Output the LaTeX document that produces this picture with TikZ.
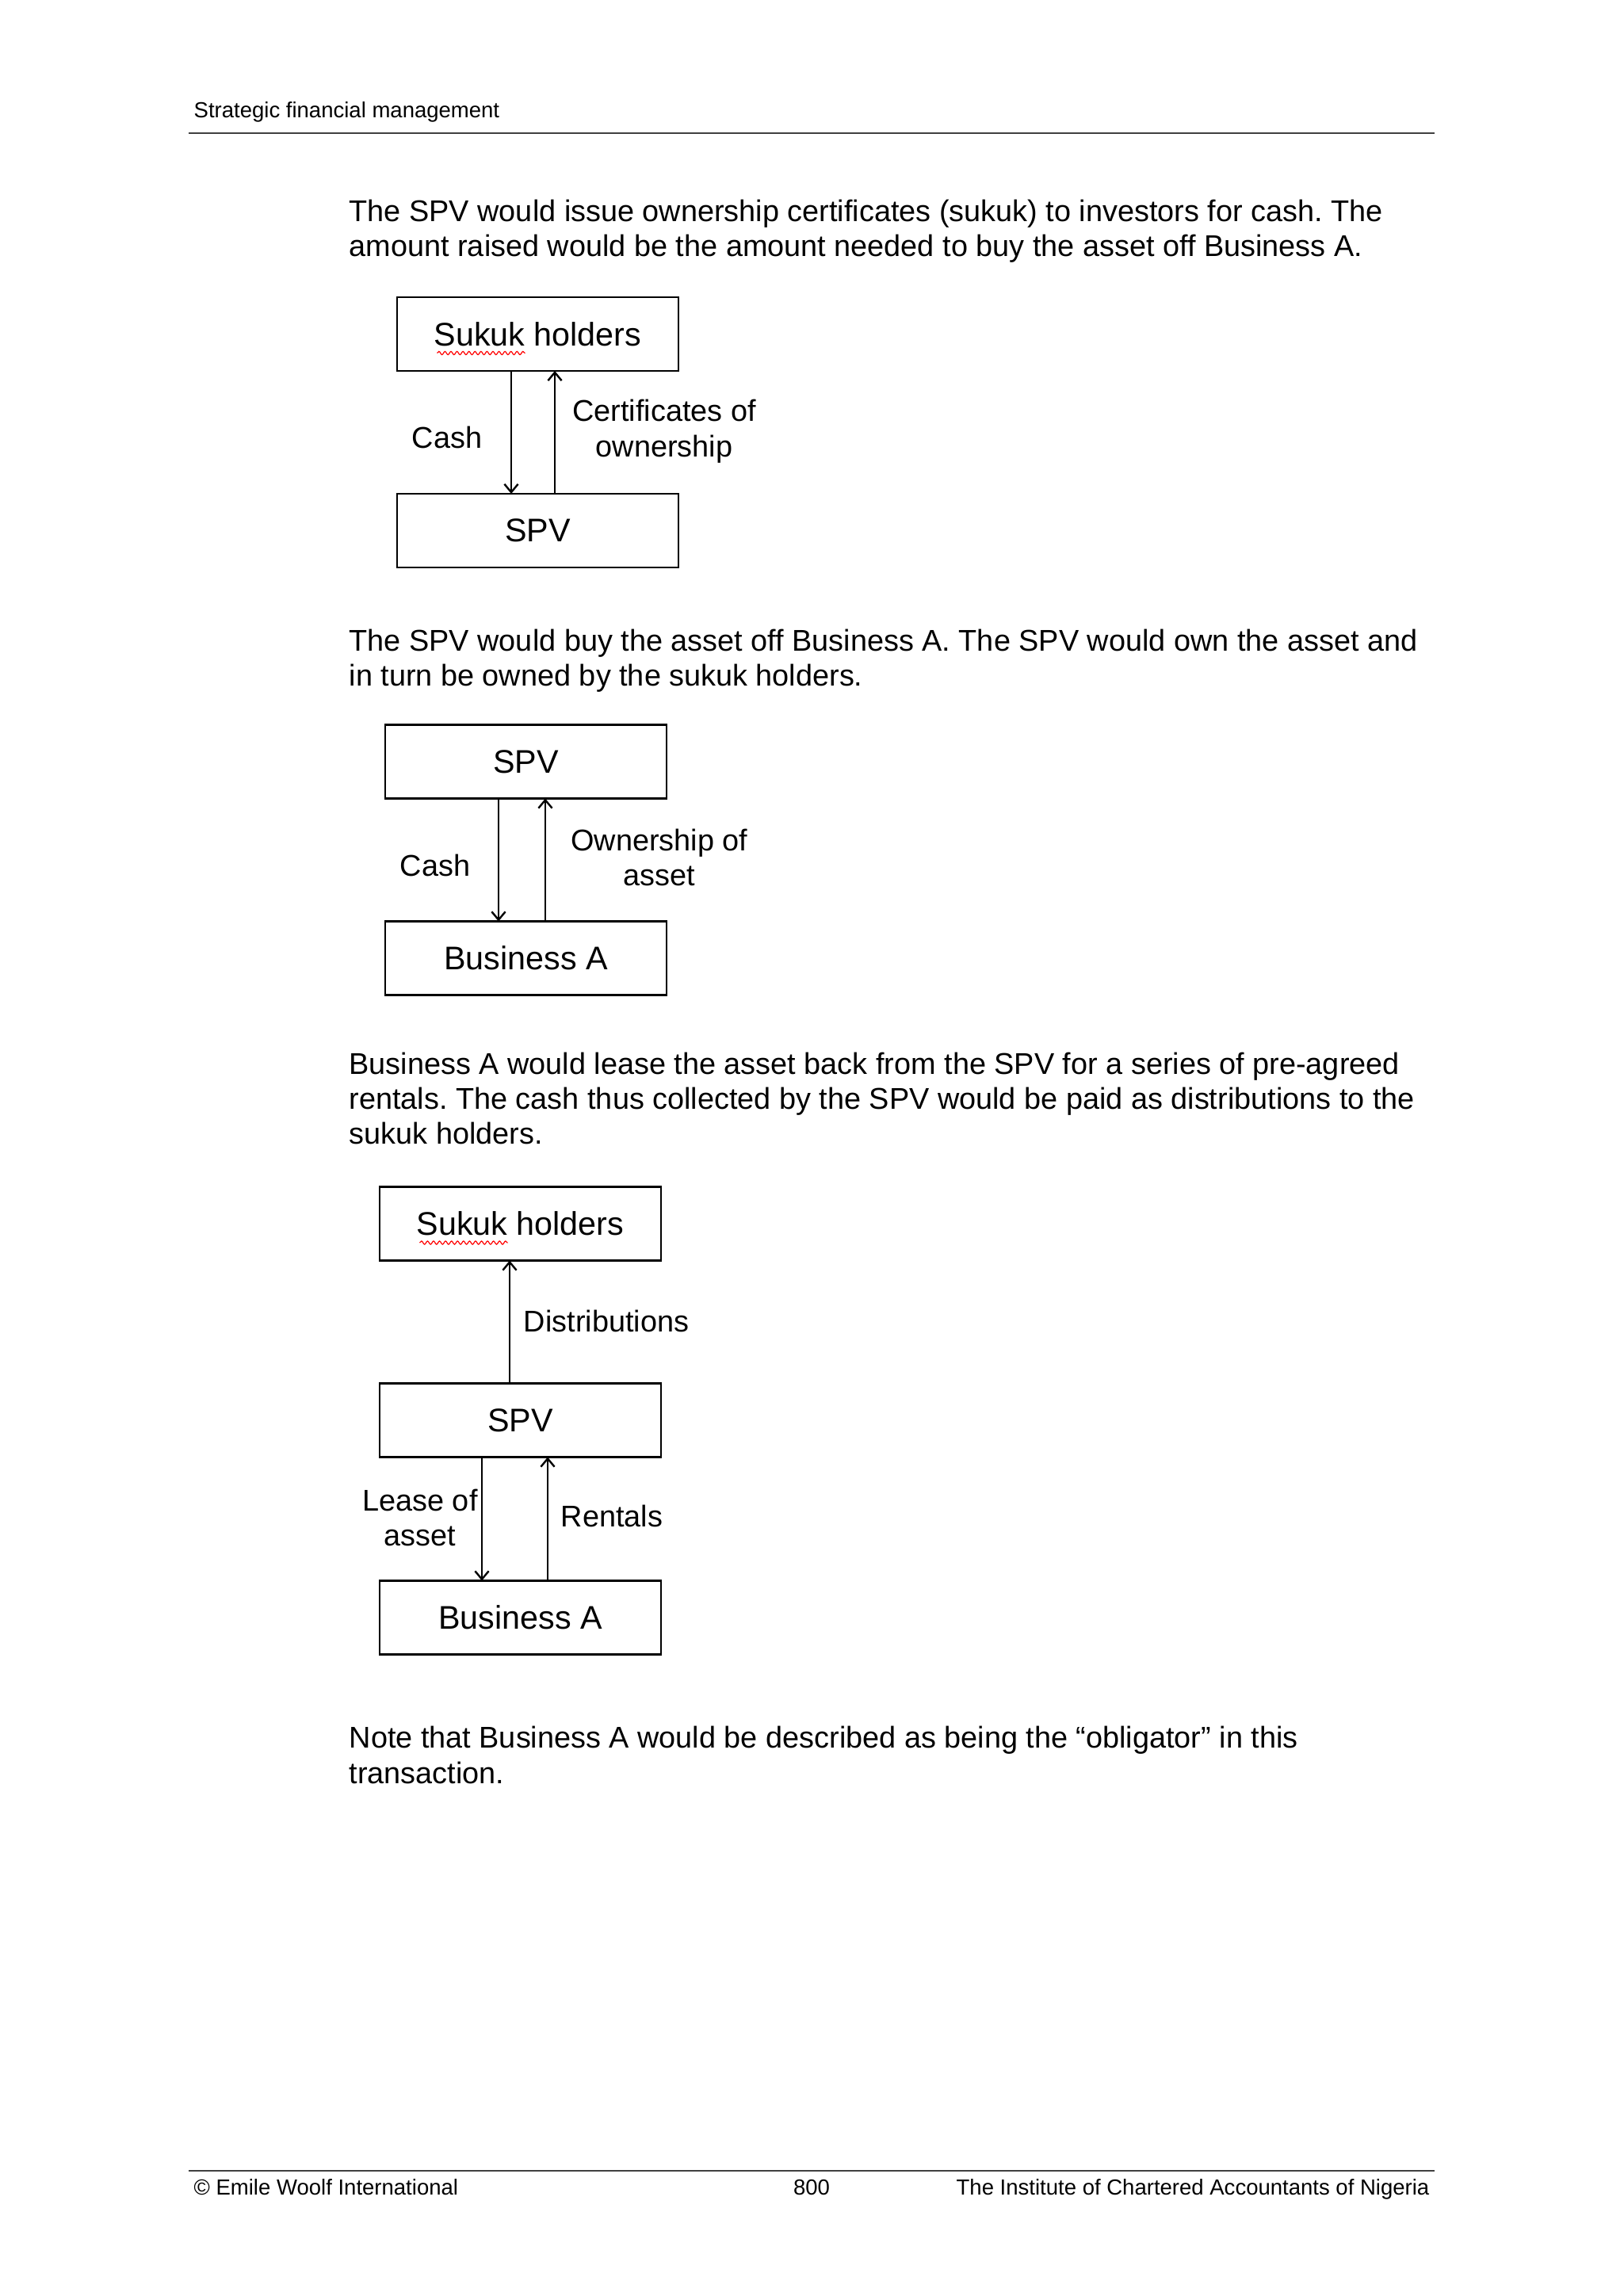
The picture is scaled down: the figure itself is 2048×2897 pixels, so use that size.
\documentclass[tikz,border=0pt]{standalone}
\usepackage{fontspec}
\setmainfont{Liberation Sans}
\usetikzlibrary{arrows.meta,calc,decorations.pathmorphing}
\newlength\pxu \setlength\pxu{0.290664pt}
\frenchspacing
\begin{document}
\begin{tikzpicture}[x=0.290664pt,y=-0.290664pt,
  box/.style={draw, line width=0.7pt, minimum width=355\pxu, minimum height=93\pxu, inner sep=0pt, outer sep=0pt, font=\fontsize{12}{14}\selectfont},
  lbl/.style={align=center, inner sep=0pt, font=\fontsize{11}{13}\selectfont},
  body/.style={anchor=base west, inner sep=0pt, font=\fontsize{11}{12.9}\selectfont},
  small/.style={inner sep=0pt, font=\fontsize{8}{9.6}\selectfont},
  arr/.style={line width=0.6pt, -{Straight Barb[length=3pt,width=5pt,line width=0.7pt]}},
  squig/.style={red, line width=0.35pt, decorate, decoration={snake, segment length=2.2pt, amplitude=0.6pt}},
  rule/.style={line width=0.6pt, black!75}]
\useasboundingbox (0,0) rectangle (2048,2897);
\fill[white] (0,0) rectangle (2048,2897);

% header
\node[small, anchor=base west] (hdr) at (244,148) {Strategic financial management};
\coordinate (hr1) at (238,168); \coordinate (hr2) at (1810,168);
\draw[rule] (hr1) -- (hr2);

% paragraph 1
\node[body] (p1a) at (440,279) {The SPV would issue ownership certificates (sukuk) to investors for cash. The};
\node[body] (p1b) at (440,323) {amount raised would be the amount needed to buy the asset off Business A.};

% diagram 1
\node[box] (sh1) at (678.5,421.5) {Sukuk holders};
\node[box] (spv1) at (678.5,669.5) {SPV};
\draw[squig] ($(sh1.center)+(-127,24)$) -- ($(sh1.center)+(-16,24)$);
\coordinate (a1) at (645,0); \coordinate (b1) at (700,0);
\draw[arr] (sh1.south -| a1) -- (spv1.north -| a1);
\draw[arr] (spv1.north -| b1) -- (sh1.south -| b1);
\node[lbl] (l1a) at (564,552) {Cash};
\node[lbl] (l1b) at (838,544) {Certificates of\\ownership};

% paragraph 2
\node[body] (p2a) at (440,821) {The SPV would buy the asset off Business A. The SPV would own the asset and};
\node[body] (p2b) at (440,865) {in turn be owned by the sukuk holders.};

% diagram 2
\node[box] (spv2) at (663.5,961) {SPV};
\node[box] (ba2) at (663.5,1209) {Business A};
\coordinate (a2) at (629,0); \coordinate (b2) at (688,0);
\draw[arr] (spv2.south -| a2) -- (ba2.north -| a2);
\draw[arr] (ba2.north -| b2) -- (spv2.south -| b2);
\node[lbl] (l2a) at (549,1092) {Cash};
\node[lbl] (l2b) at (832,1082) {Ownership of\\asset};

% paragraph 3
\node[body] (p3a) at (440,1355) {Business A would lease the asset back from the SPV for a series of pre-agreed};
\node[body] (p3b) at (440,1399) {rentals. The cash thus collected by the SPV would be paid as distributions to the};
\node[body] (p3c) at (440,1443) {sukuk holders.};

% diagram 3
\node[box] (sh3) at (656.5,1544) {Sukuk holders};
\node[box] (spv3) at (656.5,1792) {SPV};
\node[box] (ba3) at (656.5,2041) {Business A};
\draw[squig] ($(sh3.center)+(-127,24)$) -- ($(sh3.center)+(-16,24)$);
\coordinate (c3) at (643,0); \coordinate (a3) at (608,0); \coordinate (b3) at (691,0);
\draw[arr] (spv3.north -| c3) -- (sh3.south -| c3);
\draw[arr] (spv3.south -| a3) -- (ba3.north -| a3);
\draw[arr] (ba3.north -| b3) -- (spv3.south -| b3);
\node[lbl] (l3a) at (765,1667) {Distributions};
\node[lbl] (l3b) at (530,1915) {Lease of\\asset};
\node[lbl] (l3c) at (772,1913) {Rentals};

% paragraph 4
\node[body] (p4a) at (440,2205) {Note that Business A would be described as being the “obligator” in this};
\node[body] (p4b) at (440,2250) {transaction.};

% footer
\coordinate (fr1) at (238,2739); \coordinate (fr2) at (1810,2739);
\draw[rule] (fr1) -- (fr2);
\node[small, anchor=base west] (f1) at (244,2769) {© Emile Woolf International};
\node[small, anchor=base] (f2) at (1024,2769) {800};
\node[small, anchor=base east] (f3) at (1804,2769) {The Institute of Chartered Accountants of Nigeria};
\end{tikzpicture}
\end{document}
